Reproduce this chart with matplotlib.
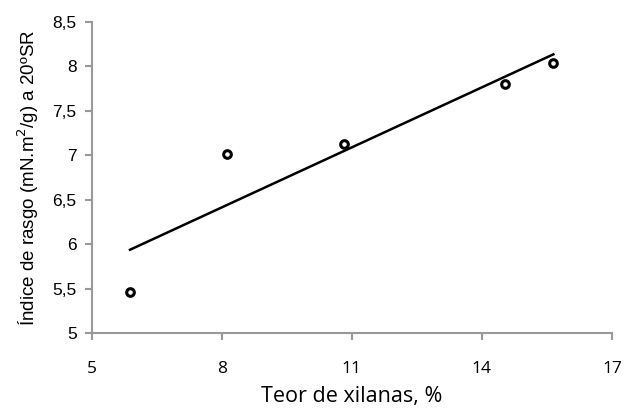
import numpy as np
from matplotlib import pyplot as plt

# teor de xilanas (%) e indice de rasgo
xilanas = [5.88, 8.12, 10.82, 14.54, 15.65]
rasgo = [5.46, 7.02, 7.13, 7.80, 8.04]

x_ticks = [5, 8, 11, 14, 17]
y_ticks = [5, 5.5, 6, 6.5, 7, 7.5, 8, 8.5]

# linha de tendencia (minimos quadrados)
a, b = np.polyfit(xilanas, rasgo, 1)
x_lin = np.array([min(xilanas), max(xilanas)])
y_lin = a * x_lin + b

fig = plt.figure(figsize=(6.25, 4.09), dpi=100)
ax = fig.add_axes([0.147, 0.186, 0.832, 0.760])

ax.plot(x_lin, y_lin, color="black", lw=1.8)
ax.plot(xilanas, rasgo, "o", ms=5.5, mfc="white", mec="black", mew=2.2)

ax.set_xlim(5, 17)
ax.set_ylim(5, 8.5)
ax.set_xticks(x_ticks)
ax.set_yticks(y_ticks)
ax.set_xticklabels([str(v) for v in x_ticks], fontfamily="Open Sans", fontsize=12.5)
ax.set_yticklabels([("%g" % v).replace(".", ",") for v in y_ticks],
                   fontfamily="Liberation Sans", fontsize=12.5)

for lado in ["top", "right"]:
    ax.spines[lado].set_visible(False)
for lado in ["left", "bottom"]:
    ax.spines[lado].set_color("#999999")
    ax.spines[lado].set_linewidth(1.5)
ax.tick_params(axis="both", direction="out", length=5, width=1.5, color="#999999")
ax.tick_params(axis="x", pad=15)
ax.tick_params(axis="y", pad=6)

ax.set_xlabel("Teor de xilanas, %", fontfamily="Open Sans", fontsize=15.5, labelpad=7)
ax.set_ylabel("Índice de rasgo (mN.m$^2$/g) a 20ºSR", fontfamily="Liberation Sans",
              fontsize=13.5, labelpad=8)

fig.savefig("out.png", dpi=100)
